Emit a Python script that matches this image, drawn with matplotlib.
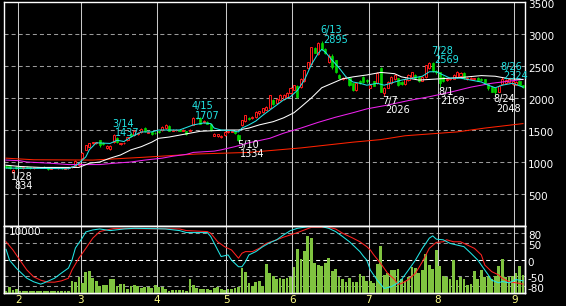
import numpy as np
import pandas as pd
import matplotlib
matplotlib.use('Agg')
import matplotlib.pyplot as plt
from matplotlib.transforms import ScaledTranslation

# trading days (Tokyo 2022)
holidays = ['2022-02-11', '2022-02-23', '2022-03-21', '2022-04-29', '2022-05-03',
            '2022-05-04', '2022-05-05', '2022-07-18', '2022-08-11']
dates = pd.bdate_range('2022-01-26', '2022-09-05', freq='C', holidays=holidays)

opens = [935, 930, 850, 915, 925, 905, 925, 915, 900, 915,
         905, 920, 915, 890, 905, 905, 915, 895, 900, 915,
         940, 950, 1060, 1190, 1240, 1290, 1295, 1340, 1300, 1220,
         1200, 1310, 1380, 1280, 1290, 1340, 1440, 1420, 1430, 1470,
         1530, 1460, 1470, 1460, 1480, 1500, 1530, 1560, 1490, 1495,
         1505, 1490, 1480, 1490, 1580, 1695, 1690, 1620, 1625, 1600,
         1410, 1400, 1390, 1420, 1470, 1475, 1480, 1420, 1580, 1640,
         1690, 1680, 1700, 1760, 1780, 1820, 1850, 1970, 1920, 1970,
         1980, 2010, 2080, 2130, 2190, 2170, 2260, 2470, 2530, 2780,
         2680, 2860, 2760, 2560, 2660, 2590, 2360, 2290, 2310, 2310,
         2230, 2120, 2270, 2330, 2280, 2160, 2260, 2230, 2470, 2080,
         2160, 2230, 2290, 2310, 2250, 2220, 2280, 2330, 2360, 2330,
         2270, 2330, 2470, 2550, 2420, 2400, 2330, 2280, 2290, 2300,
         2330, 2340, 2390, 2290, 2300, 2290, 2320, 2300, 2290, 2230,
         2170, 2150, 2100, 2220, 2230, 2250, 2220, 2210, 2270, 2200]
highs = [955, 950, 890, 930, 940, 935, 935, 925, 920, 925,
         925, 930, 920, 915, 925, 920, 920, 915, 925, 935,
         1030, 1000, 1150, 1270, 1300, 1315, 1320, 1350, 1320, 1265,
         1260, 1437, 1390, 1300, 1310, 1395, 1455, 1495, 1470, 1530,
         1545, 1490, 1480, 1470, 1490, 1560, 1595, 1575, 1510, 1515,
         1515, 1510, 1490, 1510, 1707, 1705, 1700, 1650, 1635, 1610,
         1450, 1440, 1420, 1480, 1490, 1495, 1490, 1430, 1660, 1740,
         1700, 1720, 1790, 1800, 1850, 1870, 2050, 1990, 2000, 2060,
         2060, 2090, 2170, 2210, 2200, 2310, 2440, 2570, 2800, 2800,
         2870, 2895, 2780, 2680, 2680, 2600, 2380, 2330, 2340, 2320,
         2240, 2240, 2280, 2340, 2300, 2210, 2270, 2400, 2490, 2170,
         2260, 2340, 2370, 2320, 2260, 2310, 2370, 2410, 2380, 2340,
         2340, 2520, 2560, 2569, 2440, 2410, 2340, 2310, 2320, 2370,
         2420, 2400, 2400, 2330, 2330, 2320, 2330, 2310, 2300, 2240,
         2180, 2160, 2200, 2324, 2290, 2300, 2270, 2260, 2280, 2210]
lows = [905, 895, 834, 890, 900, 895, 900, 895, 890, 900,
        900, 905, 880, 885, 900, 895, 895, 890, 895, 905,
        935, 930, 1050, 1180, 1230, 1280, 1285, 1240, 1270, 1210,
        1190, 1300, 1300, 1270, 1280, 1330, 1390, 1410, 1420, 1460,
        1470, 1450, 1420, 1440, 1460, 1490, 1520, 1480, 1480, 1485,
        1480, 1480, 1420, 1485, 1575, 1670, 1590, 1610, 1590, 1490,
        1400, 1390, 1380, 1410, 1460, 1465, 1440, 1334, 1570, 1630,
        1650, 1670, 1690, 1740, 1770, 1810, 1840, 1890, 1910, 1960,
        1970, 2000, 2070, 2120, 2000, 2160, 2250, 2460, 2520, 2700,
        2670, 2750, 2690, 2540, 2460, 2390, 2300, 2280, 2290, 2190,
        2110, 2110, 2220, 2240, 2240, 2150, 2180, 2220, 2090, 2026,
        2150, 2220, 2280, 2190, 2210, 2210, 2270, 2320, 2300, 2250,
        2260, 2320, 2460, 2400, 2380, 2169, 2250, 2270, 2280, 2290,
        2320, 2330, 2300, 2280, 2290, 2280, 2260, 2270, 2220, 2130,
        2090, 2048, 2090, 2210, 2220, 2240, 2210, 2200, 2200, 2160]
closes = [915, 905, 880, 900, 910, 925, 910, 900, 915, 905,
          920, 910, 890, 905, 920, 915, 900, 910, 920, 930,
          1020, 990, 1140, 1260, 1290, 1305, 1310, 1260, 1280, 1255,
          1250, 1420, 1320, 1295, 1300, 1385, 1400, 1485, 1460, 1520,
          1480, 1475, 1430, 1450, 1465, 1550, 1580, 1490, 1505, 1500,
          1490, 1500, 1440, 1505, 1690, 1685, 1600, 1640, 1600, 1500,
          1440, 1430, 1410, 1470, 1480, 1485, 1450, 1350, 1650, 1730,
          1670, 1710, 1780, 1790, 1840, 1860, 2040, 1900, 1990, 2050,
          2040, 2080, 2160, 2200, 2020, 2300, 2430, 2560, 2790, 2710,
          2860, 2770, 2700, 2660, 2480, 2400, 2310, 2310, 2330, 2200,
          2130, 2230, 2230, 2250, 2260, 2200, 2190, 2390, 2100, 2160,
          2250, 2330, 2360, 2200, 2220, 2300, 2360, 2400, 2310, 2260,
          2330, 2510, 2550, 2420, 2400, 2230, 2260, 2300, 2310, 2360,
          2410, 2390, 2310, 2320, 2320, 2310, 2270, 2280, 2230, 2150,
          2100, 2090, 2190, 2300, 2280, 2290, 2260, 2250, 2210, 2170]
volume = [350, 850, 400, 550, 350, 350, 300, 250, 350, 250,
          350, 300, 350, 300, 350, 250, 250, 350, 300, 1840,
          1640, 2390, 1490, 3180, 3330, 2240, 1740, 1000, 1240, 1140,
          2090, 2140, 1000, 1340, 1340, 650, 1000, 1140, 1000, 750,
          900, 850, 700, 1240, 900, 850, 600, 350, 500, 500,
          500, 400, 300, 2140, 1240, 750, 600, 650, 650, 500,
          750, 900, 600, 500, 600, 650, 750, 850, 3730, 3180,
          1490, 1000, 1640, 1790, 1000, 4380, 2990, 2590, 2090, 2290,
          2140, 2290, 2390, 3880, 6620, 5070, 6320, 8560, 8210, 4480,
          4230, 4080, 4480, 5220, 3330, 3580, 2390, 2140, 1640, 2240,
          1640, 1640, 2890, 2590, 1840, 1840, 1490, 4380, 7060, 2740,
          2990, 3480, 3480, 3630, 2090, 1740, 2390, 3880, 3730, 2990,
          3480, 5870, 4230, 3630, 6470, 3980, 2590, 2390, 2090, 4980,
          1990, 2390, 2090, 1240, 1390, 3230, 2090, 3480, 2390, 2590,
          2090, 2590, 4080, 5070, 2390, 2390, 2590, 2990, 3980, 2740]

# moving averages (day index, price)
ma5_idx = [0, 10, 18, 20, 21, 23, 24, 26, 30, 32, 34, 36, 39, 42, 44, 50, 52, 54, 57, 59,
           60, 62, 65, 67, 68, 70, 72, 74, 76, 78, 80, 82, 84, 86, 88, 90, 91, 92, 94, 96,
           98, 100, 102, 104, 107, 109, 112, 114, 117, 120, 122, 124, 126, 128, 131, 134,
           137, 139, 141, 143, 146, 149]
ma5_val = [905, 900, 895, 940, 980, 1080, 1190, 1300, 1290, 1340, 1320, 1390, 1470, 1470,
           1500, 1500, 1540, 1580, 1610, 1600, 1530, 1500, 1490, 1470, 1530, 1580, 1640,
           1730, 1810, 1890, 1970, 2020, 2120, 2280, 2520, 2700, 2760, 2720, 2590, 2470,
           2330, 2250, 2230, 2200, 2230, 2200, 2250, 2280, 2310, 2340, 2410, 2410, 2360,
           2310, 2310, 2280, 2250, 2200, 2160, 2200, 2230, 2170]
ma25_idx = [0, 4, 10, 21, 24, 27, 30, 33, 36, 39, 42, 44, 47, 50, 53, 56, 60, 64, 67, 70,
            73, 77, 80, 83, 85, 88, 91, 94, 97, 100, 104, 108, 112, 114, 119, 125, 131,
            137, 141, 145, 149]
ma25_val = [950, 930, 915, 915, 980, 1000, 1060, 1110, 1190, 1240, 1310, 1370, 1390, 1420,
            1450, 1480, 1490, 1500, 1500, 1530, 1580, 1630, 1690, 1770, 1860, 2000, 2160,
            2230, 2300, 2330, 2360, 2400, 2380, 2330, 2280, 2300, 2320, 2350, 2340, 2300, 2290]
ma75_idx = [0, 4, 6, 13, 18, 27, 31, 36, 40, 45, 48, 52, 54, 60, 62, 66, 70, 76, 80, 85,
            90, 95, 100, 104, 110, 116, 122, 128, 134, 140, 149]
ma75_val = [1030, 1020, 1000, 980, 960, 960, 980, 1000, 1030, 1060, 1090, 1120, 1150, 1170,
            1190, 1240, 1300, 1370, 1450, 1530, 1620, 1700, 1770, 1830, 1890, 1960, 2020,
            2090, 2170, 2230, 2290]
ma200_idx = [0, 8, 25, 40, 55, 70, 85, 100, 108, 115, 130, 138, 149]
ma200_val = [1060, 1035, 1030, 1075, 1125, 1150, 1220, 1310, 1350, 1410, 1470, 1530, 1600]

# oscillator lines (day index, value)
osc1_idx = [0, 1, 3, 4, 6, 8, 10, 11, 14, 16, 18, 19, 20, 22, 23, 25, 27, 30, 34, 37,
            42, 46, 50, 52, 58, 59, 61, 62, 64, 65, 67, 68, 69, 70, 72, 74, 76, 78, 80, 82,
            84, 87, 91, 93, 95, 97, 99, 101, 102, 103, 104, 105, 107, 109, 111, 113, 114,
            116, 118, 120, 122, 123, 124, 126, 128, 130, 132, 134, 136, 137, 139, 140, 142,
            143, 145, 147, 149]
osc1_val = [31, -2, -27, -37, -57, -68, -75, -71, -57, -41, -26, -2, 35, 66, 84, 90, 93, 88,
            93, 95, 94, 93, 88, 82, 82, 70, 29, 9, 14, -2, -22, -22, -7, 14, 24, 39, 51, 60,
            75, 88, 95, 100, 100, 95, 85, 70, 54, 34, 24, 10, -2, -32, -63, -88, -83, -71,
            -61, -32, -2, 34, 65, 72, 62, 60, 49, 44, 39, 19, -2, -17, -47, -63, -71, -67,
            -71, -61, -65]
osc2_idx = [0, 2, 4, 6, 8, 10, 12, 14, 16, 18, 19, 21, 23, 25, 27, 29, 31, 50, 52, 58,
            59, 61, 63, 65, 67, 68, 69, 71, 73, 75, 78, 80, 82, 84, 86, 88, 93, 95, 97, 100,
            102, 104, 105, 106, 108, 110, 112, 113, 114, 116, 118, 120, 122, 124, 126, 127,
            129, 131, 133, 135, 137, 138, 140, 142, 143, 145, 147, 149]
osc2_val = [54, 29, -2, -32, -53, -63, -69, -69, -65, -57, -32, 4, 34, 65, 85, 90, 94, 93,
            88, 85, 80, 54, 39, 29, 4, 19, 24, 24, 34, 49, 60, 68, 75, 82, 90, 98, 98, 93,
            80, 65, 54, 39, 29, 14, -12, -42, -61, -76, -73, -61, -42, -7, 34, 52, 54, 60,
            54, 54, 44, 34, 14, -17, -37, -47, -57, -68, -71, -75]

# marked highs / lows
hi_dates = ['2022-03-14', '2022-04-15', '2022-06-13', '2022-07-28', '2022-08-26']
hi_vals = [1437, 1707, 2895, 2569, 2324]
lo_dates = ['2022-01-28', '2022-05-10', '2022-07-07', '2022-08-01', '2022-08-24']
lo_vals = [834, 1334, 2026, 2169, 2048]

price_ticks = [500, 1000, 1500, 2000, 2500, 3000, 3500]
osc_ticks = [-80, -50, 0, 50, 80]
months = [2, 3, 4, 5, 6, 7, 8, 9]

RED = '#ff1a1a'
GREEN = '#00d400'
CYAN = '#22e6e6'
MAGENTA = '#ee22ee'
VOLC = '#80c440'
GRID = '#9a9a9a'

plt.rcParams['font.family'] = 'DejaVu Sans'
plt.rcParams['font.size'] = 7
plt.rcParams['lines.scale_dashes'] = False
dash = (0, (2.9, 2.2))

x = np.arange(len(dates))
o, h, l, c = map(np.array, (opens, highs, lows, closes))
up = c >= o
month_pos = [np.argmax(dates.month == m) - 0.5 for m in months]

W, H = 566, 306
fig = plt.figure(figsize=(W / 100, H / 100), dpi=100, facecolor='black')
ax = fig.add_axes([4.3 / W, 1 - 226 / H, 520.4 / W, 224 / H], facecolor='black')
ax2 = fig.add_axes([4.3 / W, 1 - 293 / H, 520.4 / W, 67 / H], facecolor='black')
xlim = (-0.5, len(dates) - 0.5)
shift = ScaledTranslation(0, -0.02, fig.dpi_scale_trans)

# price panel
for v in price_ticks[:-1]:
    ax.axhline(v, color=GRID, lw=0.75, ls=dash, zorder=1)
for m in month_pos:
    ax.axvline(m, color='#c8c8c8', lw=0.75, zorder=1)
ax.vlines(x[up], l[up], h[up], color=RED, lw=0.75, zorder=3)
ax.vlines(x[~up], l[~up], h[~up], color=GREEN, lw=0.75, zorder=3)
ax.bar(x[up], (c - o)[up], bottom=o[up], width=0.6, facecolor='black',
       edgecolor=RED, lw=0.7, zorder=4)
ax.bar(x[~up], (o - c)[~up], bottom=c[~up], width=0.6, color=GREEN,
       edgecolor=GREEN, lw=0.5, zorder=4)
ax.plot(ma200_idx, ma200_val, color='#ff2200', lw=0.75, zorder=5)
ax.plot(ma75_idx, ma75_val, color=MAGENTA, lw=0.75, zorder=5)
ax.plot(ma25_idx, ma25_val, color='white', lw=0.75, zorder=5)
ax.plot(ma5_idx, ma5_val, color=CYAN, lw=0.75, zorder=5)

for d, v in zip(pd.to_datetime(hi_dates), hi_vals):
    i = dates.get_loc(d) - 0.5
    ax.annotate(f'{d.month}/{d.day}', (i, v), xytext=(0, 7.5), textcoords='offset points',
                color=CYAN, va='center', ha='left', zorder=6)
    ax.annotate(str(v), (i, v), xytext=(2.3, 0.8), textcoords='offset points',
                color=CYAN, va='center', ha='left', zorder=6)
for d, v in zip(pd.to_datetime(lo_dates), lo_vals):
    i = dates.get_loc(d) - 0.5
    ax.annotate(f'{d.month}/{d.day}', (i, v), xytext=(0, -3.2), textcoords='offset points',
                color='white', va='center', ha='left', zorder=6)
    ax.annotate(str(v), (i, v), xytext=(2.0, -9.8), textcoords='offset points',
                color='white', va='center', ha='left', zorder=6)

ax.set_xlim(xlim)
ax.set_ylim(0, 3500)
ax.set_xticks([])
ax.yaxis.tick_right()
ax.set_yticks(price_ticks)
ax.set_yticklabels([str(v) for v in price_ticks])
ax.tick_params(axis='y', length=0, pad=2.2, colors='white', labelsize=7.5)
for lbl in ax.get_yticklabels():
    lbl.set_transform(lbl.get_transform() + shift)
for s in ax.spines.values():
    s.set_color('white')
    s.set_linewidth(1)

# lower panel: grid, volume, oscillator
for v in osc_ticks:
    ax2.axhline(v, color='white' if v == 0 else GRID, lw=0.75, ls=dash, zorder=1)
for m in month_pos:
    ax2.axvline(m, color='#c8c8c8', lw=0.75, zorder=1)
ax2.set_ylim(-102, 102)
ax2.set_xlim(xlim)
ax2.set_xticks(month_pos)
ax2.set_xticklabels([str(m) for m in months])
ax2.tick_params(axis='x', length=0, pad=1.5, colors='#ffff88', labelsize=7.5)

axv = ax2.twinx()
axv.bar(x, volume, width=0.8, color=VOLC, zorder=2)
axv.set_ylim(0, 10000)
axv.set_yticks([])
for s in axv.spines.values():
    s.set_visible(False)

axo = ax2.twinx()
axo.plot(osc2_idx, osc2_val, color='#ff2222', lw=0.75)
axo.plot(osc1_idx, osc1_val, color=CYAN, lw=0.75)
axo.set_ylim(-102, 102)
axo.set_xlim(xlim)
axo.set_yticks(osc_ticks)
axo.set_yticklabels([str(v) for v in osc_ticks])
axo.tick_params(axis='y', length=0, pad=2.2, colors='white', labelsize=7.5)
for lbl in axo.get_yticklabels():
    lbl.set_transform(lbl.get_transform() + shift)
ax2.set_yticks([])
for a in (ax2, axo):
    for s in a.spines.values():
        s.set_color('white')
        s.set_linewidth(1)
axo.text(0.009, 0.915, '10000', transform=axo.transAxes, color='white',
         va='center', ha='left', fontsize=7.5)

fig.savefig('out.png', dpi=100, facecolor='black')
